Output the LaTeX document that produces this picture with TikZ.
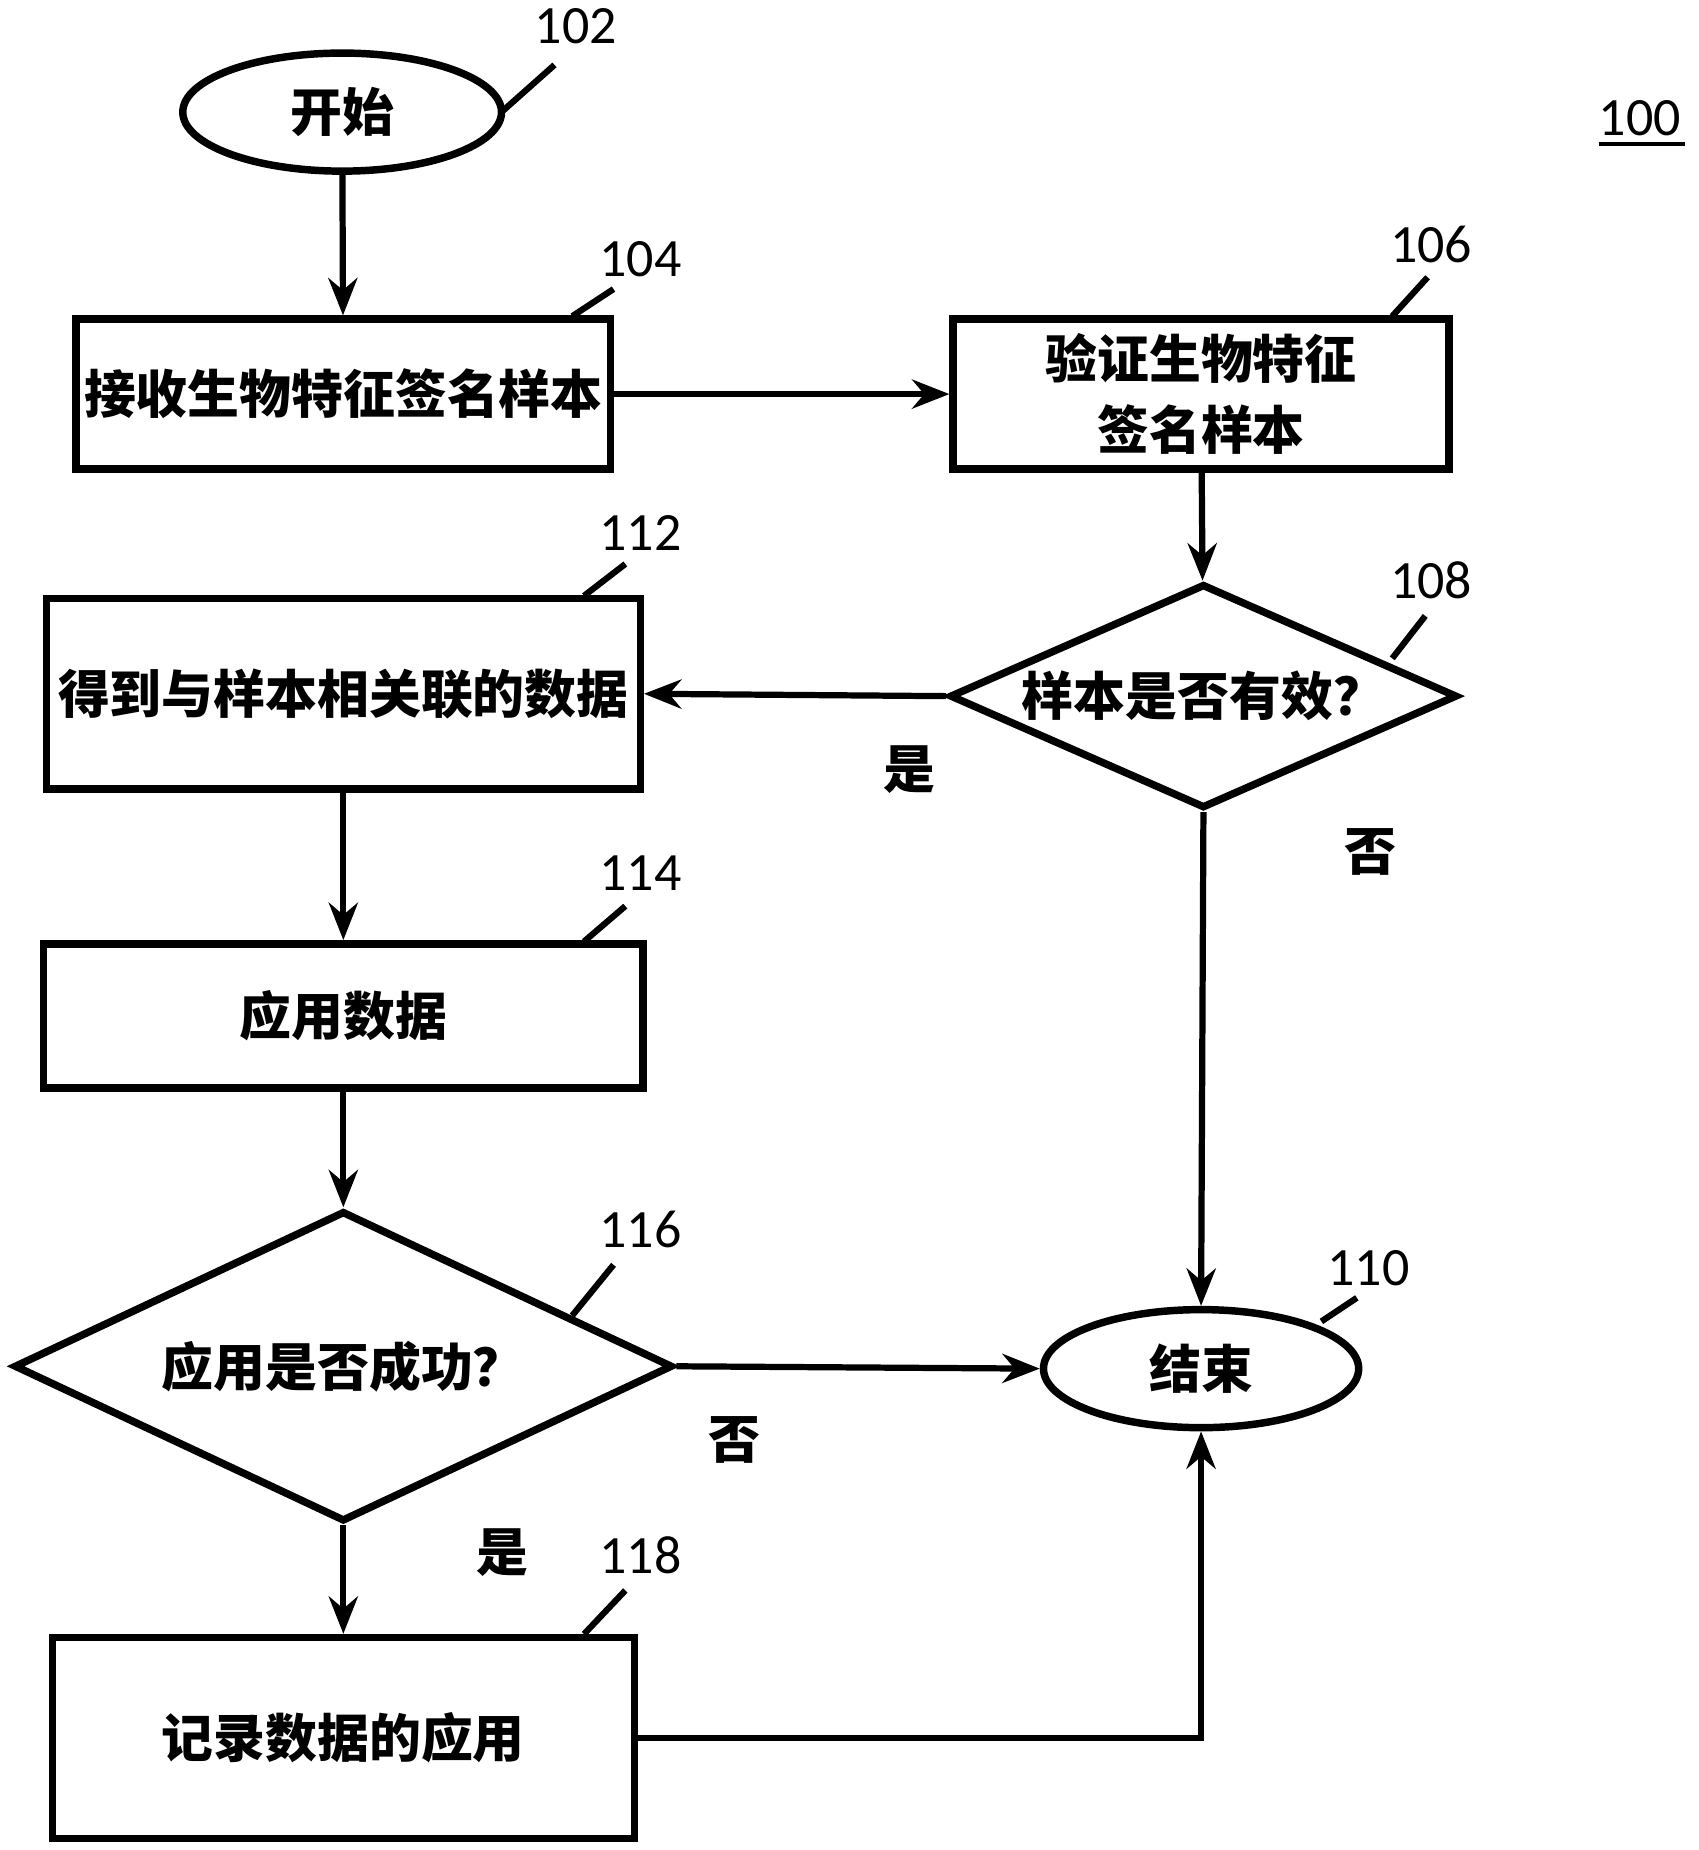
\documentclass[tikz,border=0pt]{standalone}
\usepackage{fontspec}
\setmainfont{Carlito}
\newfontfamily\cjk{Noto Sans CJK SC}
\usetikzlibrary{shapes.geometric,arrows.meta}
\tikzset{
  stage/.style={draw, line width=1.8pt, font=\cjk\bfseries\fontsize{12.5}{17}\selectfont, align=center, inner sep=0pt},
  box/.style={stage, rectangle},
  oval/.style={stage, ellipse},
  test/.style={stage, diamond},
  flow/.style={line width=1.5pt, -{Stealth[length=9pt,width=7pt]}},
  lead/.style={line width=1.5pt},
  num/.style={font=\fontsize{13}{15}\selectfont},
  ans/.style={font=\cjk\bfseries\fontsize{12.5}{15}\selectfont}
}
\begin{document}
\begin{tikzpicture}[x=0.01cm,y=-0.01cm]
  \useasboundingbox (0,0) rectangle (1440,1568);
  % steps
  \node[oval, minimum width=2.7cm, minimum height=1cm] (start) at (290,95) {开始};
  \node[box, minimum width=4.53cm, minimum height=1.27cm] (recv) at (291,334) {接收生物特征签名样本};
  \node[box, minimum width=4.2cm, minimum height=1.27cm] (verify) at (1018,334) {验证生物特征\\签名样本};
  \node[test, minimum width=4.3cm, minimum height=1.9cm, aspect=2.26] (valid) at (1020,590) {样本是否有效？};
  \node[box, minimum width=5.03cm, minimum height=1.61cm] (get) at (291,588) {得到与样本相关联的数据};
  \node[box, minimum width=5.08cm, minimum height=1.22cm] (apply) at (291,861) {应用数据};
  \node[test, minimum width=5.58cm, minimum height=2.63cm, aspect=2.12] (ok) at (291,1158) {应用是否成功？};
  \node[oval, minimum width=2.67cm, minimum height=1cm] (end) at (1018,1160) {结束};
  \node[box, minimum width=4.93cm, minimum height=1.7cm] (log) at (291,1473) {记录数据的应用};
  % connectors
  \draw[flow] (start) -- (recv);
  \draw[flow] (recv) -- (verify);
  \draw[flow] (verify) -- (valid);
  \draw[flow] (valid.west) -- node[ans, below=8pt, pos=0.12] {是} (get.east);
  \draw[flow] (valid.south) -- node[ans, right=30pt, pos=0.08] {否} (end.north);
  \draw[flow] (get) -- (apply);
  \draw[flow] (apply) -- (ok.north);
  \draw[flow] (ok.east) -- node[ans, below=8pt, pos=0.16] {否} (end.west);
  \draw[flow] (ok.south) -- node[ans, right=28pt, pos=0.25] {是} (log.north);
  \coordinate (bend) at (end.south |- log.east);
  \draw[flow] (log.east) -- (bend) -- (end.south);
  % reference numerals
  \node[num] (n102) at (488,22) {102};
  \node[num] (n104) at (543,220) {104};
  \node[num] (n106) at (1213,207) {106};
  \node[num] (n108) at (1213,492) {108};
  \node[num] (n112) at (543,452) {112};
  \node[num] (n114) at (543,740) {114};
  \node[num] (n116) at (543,1042) {116};
  \node[num] (n110) at (1160,1075) {110};
  \node[num] (n118) at (543,1318) {118};
  \node[num] (n100) at (1390,100) {100};
  \draw[line width=1pt] (1355,122) -- (1428,122);
  \draw[lead] (425,95) -- (470,55);
  \draw[lead] (485,268) -- (520,245);
  \draw[lead] (1180,268) -- (1210,235);
  \draw[lead] (1180,558) -- (1208,522);
  \draw[lead] (495,505) -- (530,478);
  \draw[lead] (495,798) -- (530,768);
  \draw[lead] (485,1115) -- (520,1072);
  \draw[lead] (1120,1120) -- (1150,1100);
  \draw[lead] (495,1385) -- (530,1348);
\end{tikzpicture}
\end{document}
